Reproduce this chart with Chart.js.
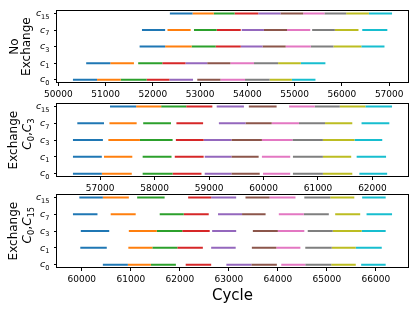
<!DOCTYPE html>
<html>
<head>
<meta charset="utf-8">
<script src="https://cdn.jsdelivr.net/npm/chart.js@4.4.1/dist/chart.umd.min.js"></script>
<style>
  body { margin: 0; background: #fff; }
  canvas { position: absolute; left: 0; }
</style>
</head>
<body>
<canvas id="p1" width="415" height="100" style="top:0px"></canvas>
<canvas id="p2" width="415" height="101" style="top:93px"></canvas>
<canvas id="p3" width="415" height="127" style="top:184px"></canvas>
<script>
// rows bottom to top: c0, c1, c3, c7, c15 (subscripts)
var rowSubs = ['0', '1', '3', '7', '15'];
var colors = ['#1f77b4', '#ff7f0e', '#2ca02c', '#d62728', '#9467bd',
              '#8c564b', '#e377c2', '#7f7f7f', '#bcbd22', '#17becf'];

// No Exchange: [start, end] cycle of each segment
var noExC0  = [[50310,50820],[50820,51320],[51320,51870],[51870,52350],[52350,52850],[52940,53430],[53430,53950],[53950,54470],[54470,54940],[54940,55440]];
var noExC1  = [[50590,51100],[51100,51600],[51690,52200],[52200,52690],[52690,53150],[53150,53640],[53640,54140],[54140,54650],[54650,55130],[55130,55650]];
var noExC3  = [[51720,52260],[52260,52820],[52820,53330],[53330,53860],[53860,54320],[54320,54810],[54810,55340],[55340,55820],[55820,56410],[56410,56900]];
var noExC7  = [[51770,52260],[52310,52800],[52870,53350],[53350,53860],[53880,54350],[54350,54840],[54840,55330],[55370,55850],[55850,56350],[56430,56960]];
var noExC15 = [[52360,52840],[52840,53290],[53290,53730],[53730,54230],[54230,54700],[54700,55180],[55180,55630],[55630,56090],[56090,56570],[56570,57060]];

// Exchange C0,C3
var ex3C0  = [[56500,57030],[57030,57580],[57780,58330],[58330,58860],[58920,59410],[59410,59930],[59990,60490],[60540,61090],[61090,61630],[61760,62270]];
var ex3C1  = [[56500,57030],[57070,57590],[57780,58310],[58370,58900],[58920,59410],[59410,59910],[59970,60490],[60540,61090],[61090,61610],[61710,62250]];
var ex3C3  = [[56500,57050],[57150,57730],[57730,58330],[58390,58900],[58900,59410],[59410,59970],[59970,60530],[60530,61090],[61090,61670],[61670,62180]];
var ex3C7  = [[56580,57070],[57170,57670],[57790,58300],[58400,58890],[59180,59670],[59670,60150],[60150,60650],[60650,61130],[61130,61630],[61800,62310]];
var ex3C15 = [[57180,57660],[57660,58120],[58120,58580],[58580,59060],[59140,59640],[59730,60240],[60470,60940],[60940,61400],[61400,61870],[61870,62360]];

// Exchange C0,C15
var ex15C0  = [[60430,60940],[60940,61410],[61410,61920],[62120,62640],[62950,63460],[63460,63980],[64070,64560],[64560,65090],[65090,65590],[65700,66200]];
var ex15C1  = [[59970,60510],[60950,61440],[61440,61950],[61950,62470],[62640,63140],[63470,63970],[63970,64460],[64560,65100],[65100,65590],[65590,66120]];
var ex15C3  = [[59980,60560],[60960,61530],[61530,62050],[62050,62610],[62660,63150],[63490,64000],[64000,64540],[64610,65120],[65120,65710],[65710,66200]];
var ex15C7  = [[59820,60320],[60590,61100],[61590,62080],[62080,62590],[62780,63270],[63270,63750],[64020,64530],[64530,65040],[65170,65680],[65810,66330]];
var ex15C15 = [[59950,60430],[60430,60960],[61130,61690],[62170,62640],[62640,63150],[63340,63830],[63830,64360],[64540,65070],[65070,65560],[65720,66200]];

var FONT = '"DejaVu Sans"';

// text made of runs: normal, italic, subscript
function drawRuns(ctx, runs, x, base, align) {
  var w = 0;
  runs.forEach(function (r) {
    ctx.font = (r.italic ? 'italic ' : '') + r.size + 'px ' + FONT;
    r.w = ctx.measureText(r.t).width;
    w += r.w;
  });
  var cx = align === 'right' ? x - w : x - w / 2;
  runs.forEach(function (r) {
    ctx.font = (r.italic ? 'italic ' : '') + r.size + 'px ' + FONT;
    ctx.fillText(r.t, cx, base + (r.drop || 0));
    cx += r.w;
  });
}

function mathTitle(main, subs) {
  var runs = [];
  subs.forEach(function (s, i) {
    if (i) runs.push({t: ',', size: 12});
    runs.push({t: main, size: 12, italic: true});
    runs.push({t: s, size: 8.4, drop: 3});
  });
  return runs;
}

function makePanel(id, rows, titleLines, xTitle, xAxisH) {
  var datasets = [];
  var lo = Infinity, hi = -Infinity;
  rows.forEach(function (segs, r) {
    segs.forEach(function (s, i) {
      lo = Math.min(lo, s[0]);
      hi = Math.max(hi, s[1]);
      datasets.push({
        data: [{x: s[0], y: r}, {x: s[1], y: r}],
        showLine: true,
        borderColor: colors[i],
        borderWidth: 2,
        borderCapStyle: 'butt',
        pointRadius: 0
      });
    });
  });
  var pad = (hi - lo) * 0.05;

  // frame, math tick labels and y title
  var deco = {
    id: 'deco',
    afterDraw: function (chart) {
      var a = chart.chartArea, ctx = chart.ctx, ys = chart.scales.y;
      ctx.save();
      ctx.strokeStyle = '#000';
      ctx.lineWidth = 1;
      ctx.strokeRect(Math.round(a.left) - 0.5, Math.round(a.top) + 0.5,
                     Math.round(a.right - a.left) + 1, Math.round(a.bottom - a.top) - 1);
      ctx.fillStyle = '#000';
      ctx.textBaseline = 'alphabetic';
      rowSubs.forEach(function (s, i) {
        var py = ys.getPixelForValue(i);
        drawRuns(ctx, [{t: 'c', size: 9.5, italic: true}, {t: s, size: 6.6, drop: 2.4}],
                 a.left - 7.5, py + 2.8, 'right');
      });
      var mid = (a.top + a.bottom) / 2;
      titleLines.forEach(function (ln) {
        ctx.save();
        ctx.translate(ln.x, mid + (ln.shift || 0));
        ctx.rotate(-Math.PI / 2);
        drawRuns(ctx, ln.runs, 0, 0.365 * 12, 'center');
        ctx.restore();
      });
      ctx.restore();
    }
  };

  return new Chart(document.getElementById(id), {
    type: 'scatter',
    data: {datasets: datasets},
    options: {
      responsive: false,
      animation: false,
      devicePixelRatio: 1,
      layout: {padding: {top: 7, right: 7, left: 0, bottom: 0}},
      plugins: {legend: {display: false}, tooltip: {enabled: false}},
      scales: {
        x: {
          type: 'linear',
          min: lo - pad,
          max: hi + pad,
          afterBuildTicks: function (s) {
            var t = [];
            for (var v = Math.ceil(s.min / 1000) * 1000; v <= s.max; v += 1000) t.push({value: v});
            s.ticks = t;
          },
          afterFit: function (s) { s.height = xAxisH; },
          border: {display: false},
          grid: {drawOnChartArea: false, tickLength: 3, tickColor: '#000'},
          ticks: {
            color: '#000', padding: 3, maxRotation: 0, autoSkip: false,
            font: {family: 'DejaVu Sans', size: 9},
            callback: function (v) { return String(v); }
          },
          title: xTitle ? {
            display: true, text: xTitle, color: '#000',
            font: {family: 'DejaVu Sans', size: 15},
            padding: {top: 0, bottom: 6}
          } : {display: false}
        },
        y: {
          type: 'linear',
          min: -0.2,
          max: 4.2,
          afterBuildTicks: function (s) {
            s.ticks = rowSubs.map(function (l, i) { return {value: i}; });
          },
          afterFit: function (s) { s.width = 57; },
          border: {display: false},
          grid: {drawOnChartArea: false, tickLength: 3, tickColor: '#000'},
          ticks: {
            padding: 3, autoSkip: false,
            callback: function () { return ''; }
          }
        }
      }
    },
    plugins: [deco]
  });
}

makePanel('p1', [noExC0, noExC1, noExC3, noExC7, noExC15],
  [{x: 13.5, runs: [{t: 'No', size: 12}]},
   {x: 25.5, runs: [{t: 'Exchange', size: 12}]}], null, 17);
makePanel('p2', [ex3C0, ex3C1, ex3C3, ex3C7, ex3C15],
  [{x: 13, runs: [{t: 'Exchange', size: 12}]},
   {x: 26.5, shift: -6, runs: mathTitle('C', ['0', '3'])}], null, 17);
makePanel('p3', [ex15C0, ex15C1, ex15C3, ex15C7, ex15C15],
  [{x: 13, runs: [{t: 'Exchange', size: 12}]},
   {x: 26.5, shift: -6, runs: mathTitle('C', ['0', '15'])}], 'Cycle', 43);
</script>
</body>
</html>
